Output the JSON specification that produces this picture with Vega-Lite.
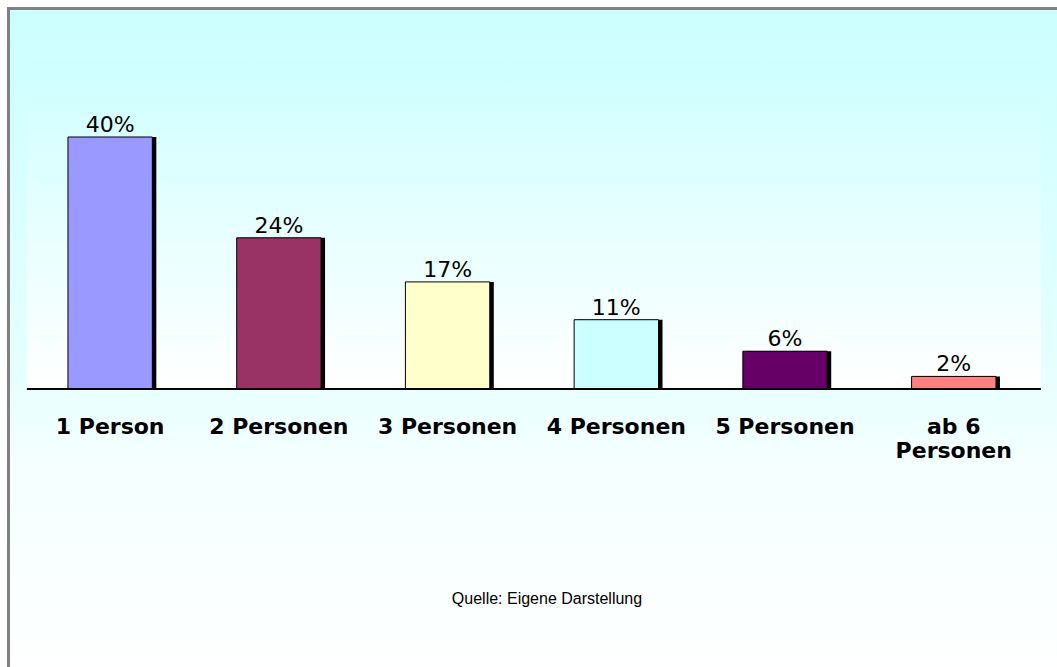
{
  "$schema": "https://vega.github.io/schema/vega-lite/v6.json",
  "width": 1057,
  "height": 667,
  "autosize": {"type": "fit", "contains": "padding"},
  "padding": {"left": 10, "top": 10, "right": -2, "bottom": -2},
  "background": "white",
  "config": {
    "view": {"stroke": "#808080", "strokeWidth": 6, "fill": null},
    "axis": {"grid": false}
  },
  "data": {
    "values": [
      {"haushalt": "1 Person", "anteil": 40, "text": "40%"},
      {"haushalt": "2 Personen", "anteil": 24, "text": "24%"},
      {"haushalt": "3 Personen", "anteil": 17, "text": "17%"},
      {"haushalt": "4 Personen", "anteil": 11, "text": "11%"},
      {"haushalt": "5 Personen", "anteil": 6, "text": "6%"},
      {"haushalt": "ab 6 Personen", "anteil": 2, "text": "2%"}
    ]
  },
  "encoding": {
    "x": {
      "field": "haushalt",
      "type": "nominal",
      "sort": null,
      "scale": {
        "domain": ["1 Person", "2 Personen", "3 Personen", "4 Personen", "5 Personen", "ab 6 Personen"],
        "paddingInner": 0.5, "paddingOuter": 0.3586, "align": 0.479
      },
      "axis": {
        "orient": "bottom",
        "offset": -280,
        "zindex": 2,
        "domain": false,
        "ticks": false,
        "labelAngle": 0,
        "labelFont": "DejaVu Sans",
        "labelFontWeight": "bold",
        "labelFontSize": 22,
        "labelColor": "black",
        "labelPadding": 27,
        "labelLineHeight": 24,
        "labelLimit": 0,
        "labelOverlap": false,
        "labelExpr": "datum.label == 'ab 6 Personen' ? ['ab 6', 'Personen'] : datum.label",
        "title": "Quelle: Eigene Darstellung",
        "titleFont": "Liberation Sans",
        "titleFontWeight": "normal",
        "titleFontSize": 16,
        "titleColor": "black",
        "titleBaseline": "alphabetic",
        "titleAlign": "center",
        "titleX": 536.5,
        "titleY": 214
      }
    },
    "y": {
      "field": "anteil",
      "type": "quantitative",
      "scale": {"domain": [-44.44, 60.16], "nice": false, "zero": false},
      "axis": null
    }
  },
  "layer": [
    {
      "mark": {
        "type": "rect",
        "fill": {
          "gradient": "linear", "x1": 0, "y1": 0, "x2": 0, "y2": 1,
          "stops": [
            {"offset": 0, "color": "#CCFFFF"},
            {"offset": 0.55, "color": "#E6FFFF"},
            {"offset": 0.68, "color": "#F4FFFF"},
            {"offset": 1, "color": "#FEFFFF"}
          ]
        }
      },
      "encoding": {
        "x": null,
        "y": {"datum": 60.16, "type": "quantitative"},
        "y2": {"datum": -44.44}
      }
    },
    {
      "mark": {
        "type": "rect",
        "fill": {
          "gradient": "linear", "x1": 0, "y1": 0, "x2": 0, "y2": 1,
          "stops": [
            {"offset": 0, "color": "#CEFFFF"},
            {"offset": 1, "color": "#FFFFFF"}
          ]
        }
      },
      "encoding": {
        "x": {"datum": "1 Person", "bandPosition": -0.486},
        "x2": {"datum": "ab 6 Personen", "bandPosition": 1.53},
        "y": {"datum": 52, "type": "quantitative"},
        "y2": {"datum": 0}
      }
    },
    {
      "mark": {"type": "bar", "fill": "black", "xOffset": 4}
    },
    {
      "mark": {"type": "bar", "stroke": "black", "strokeWidth": 1},
      "encoding": {
        "color": {
          "field": "haushalt",
          "type": "nominal",
          "sort": null,
          "scale": {
            "domain": ["1 Person", "2 Personen", "3 Personen", "4 Personen", "5 Personen", "ab 6 Personen"],
            "range": ["#9999FF", "#993366", "#FFFFCC", "#CCFFFF", "#660066", "#FF8080"]
          },
          "legend": null
        }
      }
    },
    {
      "mark": {"type": "rule", "color": "black", "strokeWidth": 1},
      "encoding": {
        "x": {"datum": "1 Person", "bandPosition": -0.486},
        "x2": {"datum": "ab 6 Personen", "bandPosition": 1.53},
        "y": {"datum": 0, "type": "quantitative"}
      }
    },
    {
      "mark": {
        "type": "text",
        "font": "DejaVu Sans",
        "fontSize": 22,
        "color": "black",
        "baseline": "alphabetic",
        "dy": -5
      },
      "encoding": {
        "text": {"field": "text"}
      }
    }
  ]
}
